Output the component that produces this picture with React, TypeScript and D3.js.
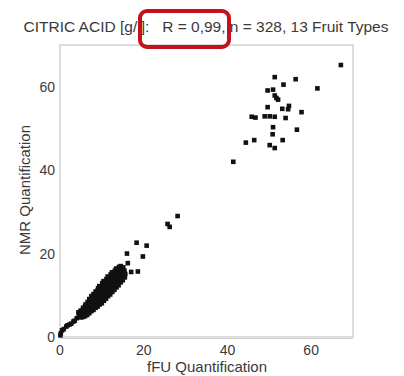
import React from "react";
import * as d3 from "d3";

const title = "CITRIC ACID [g/l]:   R = 0,99, n = 328, 13 Fruit Types";
const xLabel = "fFU Quantification";
const yLabel = "NMR Quantification";
const xTicks = [0, 20, 40, 60];
const yTicks = [0, 20, 40, 60];

const tailPoints: [number, number][] = [
  [0.1, 0.4], [0.2, 0.9], [0.5, 1.6], [0.9, 1.9], [1.5, 2.5], [1.8, 2.8],
  [2.3, 3.0], [2.7, 3.2], [3.2, 3.7], [3.5, 3.9], [4.0, 4.5],
];

const bandPoints: [number, number][] = [
  [4.5, 4.9], [4.6, 5.6], [4.4, 5.9],
  [5.0, 4.7], [5.1, 5.5], [4.9, 6.3],
  [5.5, 4.8], [5.6, 5.6], [5.4, 6.4], [5.5, 7.0],
  [6.0, 5.0], [6.1, 5.8], [5.9, 6.6], [6.0, 7.4], [6.1, 7.8],
  [6.5, 5.3], [6.6, 6.1], [6.4, 6.9], [6.5, 7.7], [6.6, 8.4],
  [7.0, 5.7], [7.1, 6.5], [6.9, 7.3], [7.0, 8.1], [7.1, 8.8], [7.0, 9.1],
  [7.5, 6.2], [7.6, 7.0], [7.4, 7.8], [7.5, 8.6], [7.6, 9.3], [7.5, 9.8],
  [8.0, 6.5], [8.1, 7.3], [7.9, 8.1], [8.0, 8.9], [8.1, 9.7], [8.0, 10.3],
  [8.5, 7.0], [8.6, 7.8], [8.4, 8.6], [8.5, 9.4], [8.6, 10.2], [8.5, 10.9],
  [9.0, 7.3], [9.1, 8.1], [8.9, 8.9], [9.0, 9.7], [9.1, 10.5], [9.0, 11.2], [9.1, 11.7],
  [9.5, 7.8], [9.6, 8.6], [9.4, 9.4], [9.5, 10.2], [9.6, 11.0], [9.5, 11.8], [9.4, 12.2],
  [10.0, 8.1], [10.1, 8.9], [9.9, 9.7], [10.0, 10.5], [10.1, 11.3], [10.0, 12.1], [10.1, 12.9],
  [10.5, 8.7], [10.6, 9.5], [10.4, 10.3], [10.5, 11.1], [10.6, 11.9], [10.5, 12.7], [10.4, 13.4],
  [11.0, 9.2], [11.1, 10.0], [10.9, 10.8], [11.0, 11.6], [11.1, 12.4], [11.0, 13.2], [11.1, 13.9],
  [11.5, 9.8], [11.6, 10.6], [11.4, 11.4], [11.5, 12.2], [11.6, 13.0], [11.5, 13.8], [11.4, 14.5],
  [12.0, 10.2], [12.1, 11.0], [11.9, 11.8], [12.0, 12.6], [12.1, 13.4], [12.0, 14.2], [12.1, 15.0],
  [12.5, 10.8], [12.6, 11.6], [12.4, 12.4], [12.5, 13.2], [12.6, 14.0], [12.5, 14.8], [12.4, 15.5],
  [13.0, 11.3], [13.1, 12.1], [12.9, 12.9], [13.0, 13.7], [13.1, 14.5], [13.0, 15.3], [13.1, 15.9],
  [13.5, 11.9], [13.6, 12.7], [13.4, 13.5], [13.5, 14.3], [13.6, 15.1], [13.5, 15.9], [13.4, 16.4],
  [14.0, 12.4], [14.1, 13.2], [13.9, 14.0], [14.0, 14.8], [14.1, 15.6], [14.0, 16.4], [14.1, 16.8],
  [14.5, 13.1], [14.6, 13.9], [14.4, 14.7], [14.5, 15.5], [14.6, 16.3], [14.5, 17.0],
  [15.0, 13.6], [15.1, 14.4], [14.9, 15.2], [15.0, 16.0], [15.1, 16.7],
  [15.5, 14.3], [15.6, 15.1], [15.4, 15.9],
];

const midPoints: [number, number][] = [
  [16.0, 20.0], [16.2, 17.7], [17.0, 15.6], [18.6, 15.7], [18.3, 22.6], [20.7, 21.9],
  [19.8, 19.3], [25.7, 27.1], [26.2, 26.4], [28.1, 29.0],
];

const highPoints: [number, number][] = [
  [67.1, 65.2], [61.5, 59.6], [56.3, 61.8], [51.3, 62.3], [53.4, 60.5], [49.6, 59.1],
  [50.9, 59.3], [51.3, 57.9], [51.7, 57.3], [52.1, 56.9], [49.6, 55.1], [53.1, 54.7],
  [54.7, 55.4], [54.5, 54.6], [57.7, 53.9], [45.8, 52.8], [46.7, 52.6], [48.9, 52.9],
  [50.1, 52.9], [51.3, 52.8], [53.9, 52.5], [50.9, 50.3], [50.8, 48.6], [56.6, 49.7],
  [44.4, 46.6], [46.4, 47.2], [53.2, 47.2], [50.1, 46.0], [51.3, 45.3], [41.4, 42.0],
];

const W = 404;
const H = 376;
const FONT = "'Liberation Sans', Arial, sans-serif";
const TEXT = "#3a3a3a";

export default function App() {
  const x = d3.scaleLinear().domain([0, 70]).range([60, 353]);
  const y = d3.scaleLinear().domain([0, 70]).range([337, 45]);
  const all = [...tailPoints, ...bandPoints, ...midPoints, ...highPoints];
  const s = 4.6;
  return (
    <svg
      width={W}
      height={H}
      style={{ position: "absolute", left: 0, top: 0, background: "#fff" }}
      fontFamily={FONT}
    >
      <rect x={0} y={0} width={W} height={H} fill="#fff" />
      {/* plot frame */}
      <rect
        x={x(0)}
        y={y(70)}
        width={x(70) - x(0)}
        height={y(0) - y(70)}
        fill="none"
        stroke="#c6c6c6"
        strokeWidth={1.2}
      />
      <line x1={x(0)} x2={x(70)} y1={y(0) + 1.5} y2={y(0) + 1.5} stroke="#d4d4d4" strokeWidth={1} />
      {/* points */}
      {all.map((d, i) => (
        <rect key={i} x={x(d[0]) - s / 2} y={y(d[1]) - s / 2} width={s} height={s} fill="#111" />
      ))}
      {/* y ticks */}
      {yTicks.map((t) => (
        <text key={"y" + t} x={55} y={y(t)} dy="0.36em" textAnchor="end" fontSize={14} fill={TEXT}>
          {t}
        </text>
      ))}
      {/* x ticks */}
      {xTicks.map((t) => (
        <text key={"x" + t} x={x(t)} y={355} textAnchor="middle" fontSize={14} fill={TEXT}>
          {t}
        </text>
      ))}
      <text x={207} y={372} textAnchor="middle" fontSize={15} fill={TEXT}>
        {xLabel}
      </text>
      <text
        transform={`translate(30,190) rotate(-90)`}
        textAnchor="middle"
        fontSize={15}
        fill={TEXT}
      >
        {yLabel}
      </text>
      <text x={206} y={32} textAnchor="middle" fontSize={15.5} fill={TEXT} style={{ whiteSpace: "pre" }}>
        {title}
      </text>
      <rect x={140} y={11} width={89} height={36} rx={7} fill="none" stroke="#c4121c" strokeWidth={4} />
    </svg>
  );
}
